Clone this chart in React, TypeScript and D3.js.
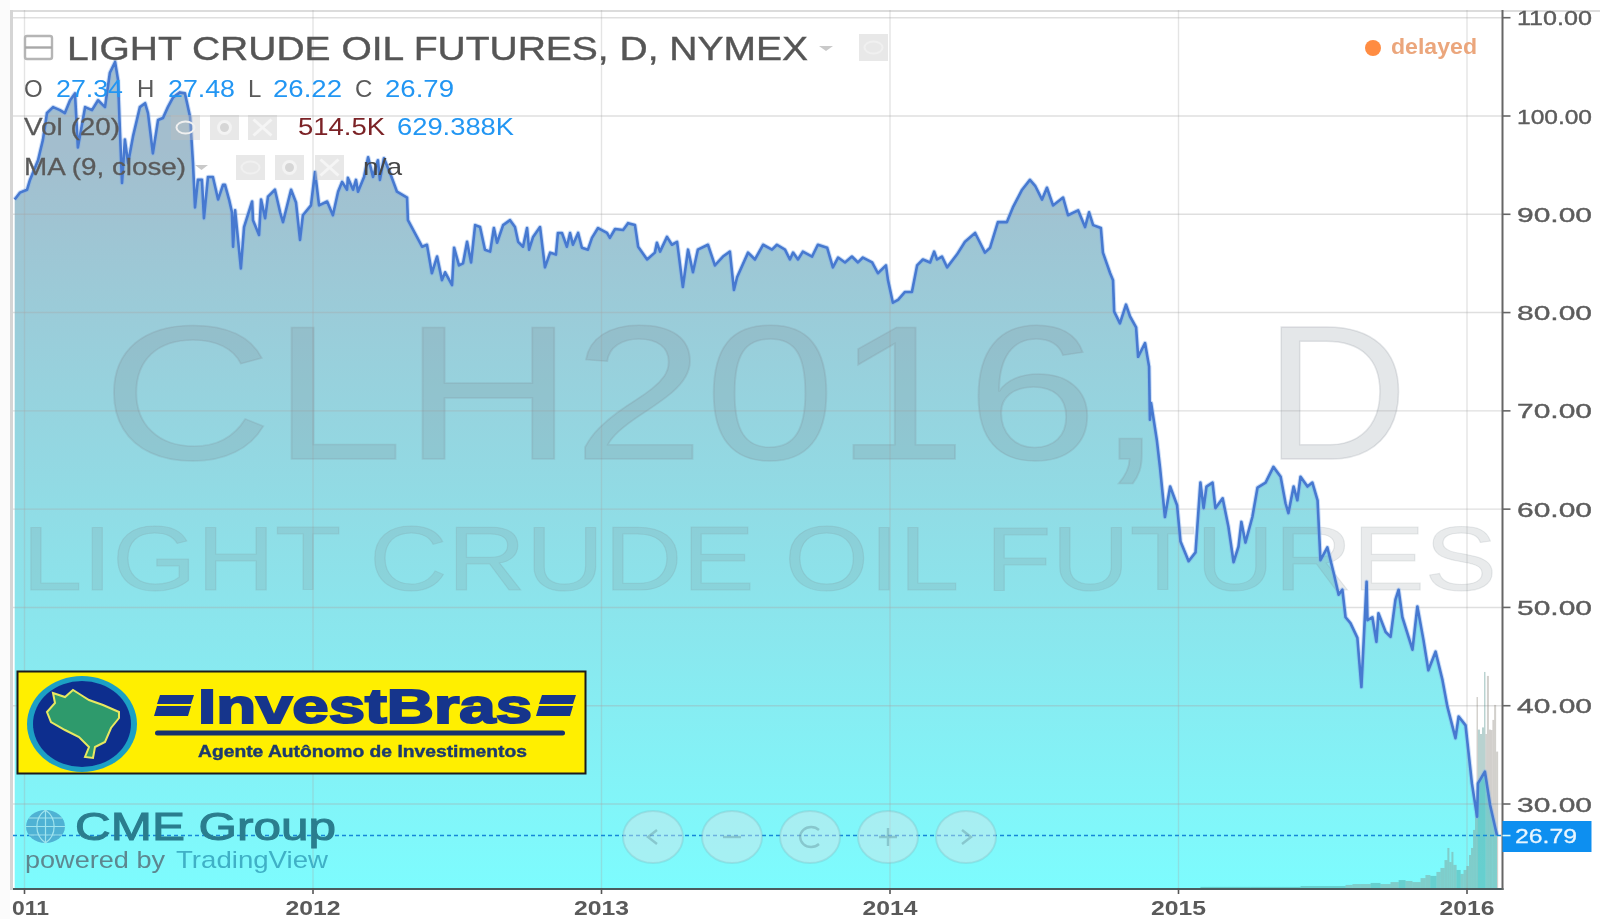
import React from "react";
import * as d3 from "d3";

// [fraction of the year, close]
const closes2010: [number, number][] = [[0.966, 91.5], [0.984, 92.2]];
const closes2011: [number, number][] = [
  [.009,92.5],[.019,93.5],[.047,95.5],[.064,97.6],[.078,100.3],[.099,100.9],[.123,100.6],[.14,100.3],[.158,101.6],[.175,102.3],[.185,96.8],[.21,100.9],[.234,100.6],[.255,101.6],[.279,100.9],[.296,104.4],[.314,105.5],[.324,103.7],[.331,98.3],[.338,93.2],[.348,97.6],[.359,95.2],[.376,97.9],[.4,100.9],[.418,101.3],[.428,100.3],[.445,96.2],[.463,99.6],[.48,99.8],[.497,100.9],[.515,101.9],[.539,102.4],[.556,102.3],[.574,99.9],[.584,95.2],[.591,90.7],[.601,93.5],[.615,93.5],[.622,89.6],[.636,93.8],[.653,93.8],[.671,91.5],[.688,93],[.695,93],[.709,91.5],[.719,90.2],[.723,86.7],[.73,90.4],[.75,84.5],[.761,88.7],[.789,91.3],[.792,89.4],[.813,87.9],[.82,91.5],[.834,89.6],[.844,91.8],[.868,92.5],[.886,90.2],[.896,89.2],[.924,92.5],[.941,91.2],[.955,87.4],[.965,89.9],[.993,90.9],
];
const closes2012: [number, number][] = [
  [.007,94.3],[.021,90.9],[.049,91.3],[.069,89.9],[.087,92.3],[.101,93.3],[.118,92.5],[.121,93.7],[.139,92.5],[.149,93.5],[.156,92.3],[.177,93.8],[.191,95.8],[.208,93.8],[.225,95.5],[.232,93.5],[.246,95.7],[.267,94.2],[.291,92.3],[.326,91.7],[.329,89.4],[.36,87.7],[.378,86.7],[.395,86.9],[.412,84],[.43,85.7],[.447,83.3],[.458,84.1],[.482,82.8],[.489,86.6],[.506,84.8],[.52,85],[.534,87.2],[.548,85.1],[.562,88.9],[.579,88.7],[.596,86.4],[.614,86.2],[.627,88.6],[.638,87.1],[.659,88.9],[.683,89.4],[.7,88.7],[.711,87.2],[.728,86.7],[.742,88.6],[.749,86.4],[.763,87.7],[.787,88.7],[.804,84.6],[.822,86.1],[.842,85.9],[.849,88.1],[.863,88.1],[.88,86.7],[.891,88.1],[.901,86.9],[.919,88.1],[.932,86.6],[.953,86.4],[.967,87.6],[.988,88.6],
];
const closes2013: [number, number][] = [
  [.019,88.1],[.029,87.6],[.047,88.5],[.075,88.4],[.092,89.1],[.116,88.9],[.127,86.7],[.158,85.4],[.185,86.1],[.192,87.1],[.203,86.2],[.227,87.7],[.244,86.9],[.262,87.2],[.282,82.6],[.3,86.4],[.317,84.1],[.334,86.4],[.369,86.9],[.393,84.8],[.421,85.7],[.445,86.2],[.459,82.3],[.47,83.6],[.508,86.1],[.532,85.4],[.56,86.9],[.591,86.4],[.608,86.9],[.636,86.4],[.653,85.4],[.664,86.1],[.681,85.4],[.698,86.2],[.73,85.7],[.75,86.9],[.782,86.6],[.802,84.6],[.82,85.6],[.844,85.1],[.868,85.7],[.889,85.1],[.906,85.6],[.938,85.1],[.958,84],[.986,84.8],[.993,83.3],
];
const closes2014: [number, number][] = [
  [.01,81],[.028,81.3],[.052,82.1],[.076,82.1],[.094,84.8],[.114,85.4],[.139,85.1],[.153,86.2],[.163,85.4],[.18,85.7],[.198,84.6],[.232,85.9],[.26,87.2],[.295,88.1],[.312,87.1],[.329,86.1],[.347,86.6],[.374,89.2],[.405,89.2],[.426,90.7],[.458,92.5],[.485,93.5],[.503,92.9],[.527,91.5],[.544,92.7],[.565,90.9],[.6,91.7],[.617,89.9],[.652,90.4],[.676,88.7],[.69,90.2],[.704,88.9],[.731,88.6],[.738,86.1],[.763,84],[.773,83.3],[.777,80.1],[.797,78.9],[.818,80.8],[.832,79.6],[.853,78.5],[.86,75.5],[.884,76.9],[.898,74.5],[.901,69.1],[.905,70.8],[.925,67],[.936,64.2],[.953,59.2],[.971,62.3],[.995,60.4],
];
const closes2015: [number, number][] = [
  [.007,56.7],[.035,54.7],[.059,55.6],[.076,62.7],[.087,60.1],[.097,62.3],[.118,62.7],[.128,60.1],[.153,61.1],[.173,58.2],[.191,54.6],[.208,56.2],[.218,58.7],[.232,56.6],[.256,59.2],[.274,62.2],[.302,62.7],[.329,64.3],[.354,63.3],[.371,60.6],[.381,59.6],[.399,62.3],[.412,60.9],[.423,63.3],[.447,62.3],[.464,62.7],[.482,60.9],[.492,54.8],[.516,56.1],[.537,53.6],[.555,51.3],[.568,51.8],[.579,49],[.596,48.4],[.62,46.9],[.634,41.9],[.652,52.6],[.655,48.7],[.672,49],[.686,46.5],[.693,49.4],[.718,47.5],[.735,47],[.752,50.8],[.763,51.8],[.776,49],[.811,45.7],[.828,50.1],[.849,46.7],[.866,43.6],[.891,45.5],[.915,42.6],[.932,39.9],[.96,36.7],[.971,38.9],[.995,38],
];
const closes2016: [number, number][] = [
  [.017,32.1],[.035,28.7],[.038,32.1],[.062,33.3],[.08,29.9],[.104,26.79],
];
// [fraction of the year, volume in thousands]
const volume2015: [number, number][] = [
  [.076,5],[.25,5],[.423,9],[.579,14],[.603,18],[.631,18],[.666,23],[.7,18],[.735,27],[.763,36],[.787,32],[.811,27],[.839,45],[.856,59],[.873,55],[.894,73],[.908,91],[.922,127],[.932,182],[.939,118],[.946,164],[.953,105],[.964,82],[.978,64],[.988,82],[.998,100],
];
const volume2016: [number, number][] = [
  [.007,150],[.014,182],[.021,264],[.028,400],[.033,868],[.038,720],[.045,700],[.052,730],[.059,982],[.064,700],[.069,964],[.076,720],[.083,718],[.088,764],[.094,832],[.101,620],[.108,300],
];
const priceTicks = [110, 100, 90, 80, 70, 60, 50, 40, 30];
const yearTicks = [2011, 2012, 2013, 2014, 2015, 2016];
const yearLabels = ["011", "2012", "2013", "2014", "2015", "2016"];
const lastClose = 26.79;
const ohlc = [["O", "27.34"], ["H", "27.48"], ["L", "26.22"], ["C", "26.79"]];
const title = "LIGHT CRUDE OIL FUTURES, D, NYMEX";

const withYear = (year: number, rows: [number, number][]) => rows.map(([f, v]) => ({ t: year + f, v }));
const series = [
  ...withYear(2010, closes2010), ...withYear(2011, closes2011), ...withYear(2012, closes2012),
  ...withYear(2013, closes2013), ...withYear(2014, closes2014), ...withYear(2015, closes2015), ...withYear(2016, closes2016),
];
const volumes = [...withYear(2015, volume2015), ...withYear(2016, volume2016)];

const FONT = "'Liberation Sans', Arial, sans-serif";
const PLOT = { left: 13, right: 1502.5, top: 10, bottom: 888 };

const x = d3.scaleLinear().domain([2012, 2016]).range([313, 1467]);
const y = d3.scaleLinear().domain([30, 100]).range([804, 116]);
const v = d3.scaleLinear().domain([0, 1000]).range([PLOT.bottom, PLOT.bottom - 220]);

const area = d3.area<{ t: number; v: number }>().x((d) => x(d.t)).y0(PLOT.bottom).y1((d) => y(d.v));
const line = d3.line<{ t: number; v: number }>().x((d) => x(d.t)).y((d) => y(d.v));
const bisect = d3.bisector((d: { t: number }) => d.t).left;

function T({ x: px, y: py, w, size, fill, weight, anchor, children, opacity, bold }: any) {
  return (
    <text x={px} y={py} fontSize={size} fill={fill} fontWeight={weight} textAnchor={anchor} opacity={opacity}
      stroke={bold ? fill : undefined} strokeWidth={bold}
      fontFamily={FONT} textLength={w} lengthAdjust={w ? "spacingAndGlyphs" : undefined}>
      {children}
    </text>
  );
}

function IconBox({ px, py, w = 29, h = 25, kind }: any) {
  const cx = px + w / 2, cy = py + h / 2;
  return (
    <g>
      <rect x={px} y={py} width={w} height={h} fill="rgba(190,190,190,0.36)" />
      {kind === "eye" && <ellipse cx={cx} cy={cy} rx={9} ry={6} fill="none" stroke="#f0f0f0" strokeWidth={2} />}
      {kind === "gear" && <circle cx={cx} cy={cy} r={6} fill="#d6d6d6" stroke="#f3f3f3" strokeWidth={3} />}
      {kind === "x" && <path d={`M${cx - 9} ${cy - 8}L${cx + 9} ${cy + 8}M${cx + 9} ${cy - 8}L${cx - 9} ${cy + 8}`} stroke="#f5f5f5" strokeWidth={3} />}
    </g>
  );
}

const Caret = ({ px, py, w = 13 }: any) => <path d={`M${px} ${py}h${w}l${-w / 2} 5z`} fill="#c9c9c9" />;

export default function App() {
  const navX = [653, 732, 810, 888, 966];
  return (
    <svg width={1600} height={919} style={{ position: "absolute", left: 0, top: 0 }}>
      <defs>
        <linearGradient id="fade" gradientUnits="userSpaceOnUse" x1={0} x2={0} y1={150} y2={PLOT.bottom}>
          <stop offset="0" stopColor="#a3bece" />
          <stop offset="1" stopColor="#7dfcfe" />
        </linearGradient>
        <clipPath id="page"><rect x={10} y={10} width={1590} height={909} /></clipPath>
        <clipPath id="plot"><rect x={PLOT.left} y={PLOT.top} width={PLOT.right - PLOT.left} height={PLOT.bottom - PLOT.top} /></clipPath>
        <filter id="soft" x="0" y="0" width="100%" height="100%"><feGaussianBlur stdDeviation={0.7} /></filter>
      </defs>
      <rect width={1600} height={919} fill="#fff" />
      <rect width={10} height={919} fill="#fbfbfb" />
      <g filter="url(#soft)">
        <g clipPath="url(#page)">
          <rect x={10} y={10} width={1590} height={2} fill="#dcdcdc" />
          <rect x={10} y={10} width={3} height={880} fill="#d5d5d5" />

          <g clipPath="url(#plot)">
            <path d={area(series) ?? ""} fill="url(#fade)" />
            {priceTicks.map((p) => (
              <line key={p} x1={PLOT.left} x2={PLOT.right} y1={y(p)} y2={y(p)} stroke="rgba(165,165,165,0.36)" strokeWidth={1.4} />
            ))}
            {yearTicks.map((yr) => (
              <line key={yr} x1={x(yr)} x2={x(yr)} y1={PLOT.top} y2={PLOT.bottom} stroke="rgba(165,165,165,0.3)" strokeWidth={1.4} />
            ))}
            <T x={102} y={459} w={1061} size={192} fill="rgba(125,135,145,0.2)" bold={1.5}>CLH2016,</T>
            <T x={1265} y={459} w={143} size={192} fill="rgba(125,135,145,0.2)" bold={1.5}>D</T>
            <T x={22} y={590} w={1475} size={90} fill="rgba(125,135,145,0.17)" bold={1}>LIGHT CRUDE OIL FUTURES</T>
            {volumes.map((d, i) => {
              const next = volumes[i + 1];
              if (!next) return null;
              const idx = Math.max(1, Math.min(series.length - 1, bisect(series, d.t)));
              const down = series[idx].v < series[idx - 1].v;
              const left = x(d.t);
              return (
                <rect key={i} x={left} width={Math.max(1.2, x(next.t) - left)} y={v(d.v)} height={PLOT.bottom - v(d.v)}
                  fill={down ? "rgba(130,125,115,0.36)" : "rgba(60,130,125,0.36)"} />
              );
            })}
            <path d={line(series) ?? ""} fill="none" stroke="rgba(125,170,235,0.4)" strokeWidth={4.6} strokeLinejoin="round" />
            <path d={line(series) ?? ""} fill="none" stroke="#4679d0" strokeWidth={2.6} strokeLinejoin="round" />
            <line x1={PLOT.left} x2={PLOT.right} y1={y(lastClose)} y2={y(lastClose)} stroke="#1487d8" strokeWidth={1.4} strokeDasharray="4 3" />
          </g>

          {/* axes */}
          <line x1={PLOT.left} x2={PLOT.right + 1} y1={PLOT.bottom + 1} y2={PLOT.bottom + 1} stroke="#4c5c5e" strokeWidth={2} />
          <line x1={PLOT.right} x2={PLOT.right} y1={PLOT.top} y2={PLOT.bottom + 2} stroke="#666" strokeWidth={2} />
          {priceTicks.map((p) => (
            <g key={p}>
              <line x1={PLOT.right} x2={PLOT.right + 8} y1={y(p)} y2={y(p)} stroke="#666" strokeWidth={1.6} />
              <T x={1517} y={y(p) + 7.5} w={75} size={21} fill="#5c5c5c" bold={0.4}>{p.toFixed(2)}</T>
            </g>
          ))}
          {yearTicks.map((yr, i) => (
            <g key={yr}>
              <line x1={x(yr)} x2={x(yr)} y1={PLOT.bottom} y2={PLOT.bottom + 6} stroke="#555" strokeWidth={1.6} />
              <T x={i === 0 ? 12 : x(yr) - 27.5} y={915} w={i === 0 ? 37 : 55} size={21} fill="#5a5a5a" weight={700}>{yearLabels[i]}</T>
            </g>
          ))}
          <rect x={PLOT.right} y={821} width={89} height={31} fill="#0f8ff0" />
          <line x1={PLOT.right} x2={PLOT.right + 8} y1={y(lastClose)} y2={y(lastClose)} stroke="#dff" strokeWidth={1.6} />
          <T x={1515} y={y(lastClose) + 7.5} w={62} size={21} fill="#e8f6ff" bold={0.3}>{lastClose.toFixed(2)}</T>

          {/* legend */}
          <rect x={25} y={36} width={27} height={23} rx={2} fill="none" stroke="#b5b5b5" strokeWidth={2.4} />
          <line x1={25} x2={52} y1={47.5} y2={47.5} stroke="#a8a8a8" strokeWidth={2.4} />
          <T x={67} y={60} w={741} size={33} fill="#555" bold={0.4}>{title}</T>
          <Caret px={819} py={46} w={14} />
          <IconBox px={859} py={34} w={29} h={27} kind="eye" />
          {ohlc.map(([k, val], i) => (
            <g key={k}>
              <T x={[24, 137, 248, 355][i]} y={97} size={24} fill="#5a5a5a">{k}</T>
              <T x={[56, 168, 273, 385][i]} y={97} w={[67, 67, 69, 69][i]} size={24} fill="#2196f3">{val}</T>
            </g>
          ))}
          <T x={24} y={135} w={96} size={24} fill="#5a5a5a" bold={0.3}>Vol (20)</T>
          <IconBox px={171} py={115} kind="eye" />
          <IconBox px={210} py={115} kind="gear" />
          <IconBox px={248} py={115} kind="x" />
          <T x={298} y={135} w={87} size={24} fill="#7b2426">514.5K</T>
          <T x={397} y={135} w={117} size={24} fill="#2196f3">629.388K</T>
          <T x={24} y={175} w={162} size={24} fill="#5a5a5a" bold={0.3}>MA (9, close)</T>
          <Caret px={195} py={165} w={13} />
          <IconBox px={236} py={155} kind="eye" />
          <IconBox px={275} py={155} kind="gear" />
          <IconBox px={315} py={155} kind="x" />
          <T x={363} y={175} w={39} size={24} fill="#444">n/a</T>
          <circle cx={1373} cy={48} r={8} fill="#ff8c42" />
          <T x={1391} y={54} w={86} size={22} fill="#eba67c" weight={700}>delayed</T>

          {/* InvestBras logo */}
          <rect x={17.5} y={671.5} width={568} height={102} fill="#ffef00" stroke="#1a1a1a" strokeWidth={2} />
          <ellipse cx={82} cy={724} rx={55} ry={48} fill="#1ea0c4" />
          <ellipse cx={82} cy={724} rx={49} ry={43} fill="#0f2f8e" />
          <path d="M47 712L55 703L53 693L65 697L73 690L81 695L89 700L103 705L119 712L119 718L111 728L105 742L95 747L93 758L85 757L89 747L79 737L65 730L51 722Z" fill="#2f9a6c" stroke="#e8e860" strokeWidth={2} />
          <path d="M160 695h34l-3 9h-34zM157 706h34l-3 10h-34zM542 695h34l-3 9h-34zM539 706h34l-3 10h-34z" fill="#17358c" />
          <T x={198} y={723} w={334} size={49} fill="#17358c" weight={700} bold={2}>InvestBras</T>
          <rect x={155} y={730.5} width={410} height={5} rx={2.5} fill="#17306e" />
          <T x={198} y={757} w={329} size={16.5} fill="#1c3a6e" weight={700} bold={0.4}>Agente Autônomo de Investimentos</T>

          {/* CME watermark */}
          <ellipse cx={45.5} cy={826.5} rx={19.5} ry={16.5} fill="#46a6cc" opacity={0.85} />
          <path d="M26 826.5H65M45.5 810V843M29 818H62M29 835H62M45.5 810C34 818 34 835 45.5 843M45.5 810C57 818 57 835 45.5 843" fill="none" stroke="#9fe4ee" strokeWidth={1.2} />
          <T x={75} y={840} w={261} size={39} fill="#2a7d8e" bold={1}>CME Group</T>
          <T x={25} y={868} w={140} size={24} fill="#5d8790">powered by</T>
          <T x={176} y={868} w={152} size={24} fill="#3fb0c6">TradingView</T>

          {/* navigation buttons */}
          {navX.map((cx) => (
            <ellipse key={cx} cx={cx} cy={837} rx={30} ry={26} fill="rgba(215,228,232,0.45)" stroke="rgba(130,180,185,0.3)" strokeWidth={2} />
          ))}
          <g fill="none" stroke="rgba(90,140,150,0.4)" strokeWidth={2.4}>
            <path d={`M${navX[0] + 4} 830L${navX[0] - 5} 837L${navX[0] + 4} 844`} />
            <path d={`M${navX[1] - 9} 837H${navX[1] + 9}`} />
            <path d={`M${navX[2] + 9} 830A11 10 0 1 0 ${navX[2] + 9} 844`} />
            <path d={`M${navX[3] - 9} 837H${navX[3] + 9}M${navX[3]} 828V846`} />
            <path d={`M${navX[4] - 4} 830L${navX[4] + 5} 837L${navX[4] - 4} 844`} />
          </g>
        </g>
      </g>
    </svg>
  );
}
